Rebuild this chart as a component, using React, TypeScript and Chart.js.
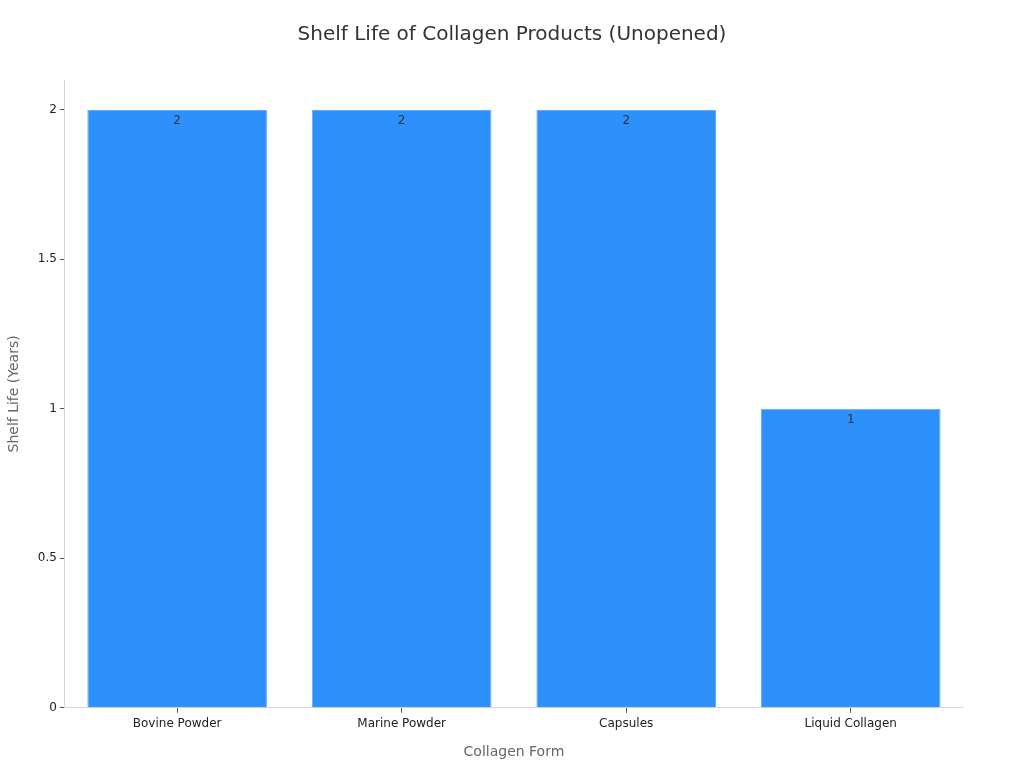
import { useEffect, useRef } from 'react'
import { Chart, ChartConfiguration, registerables } from 'chart.js'

Chart.register(...registerables)

const categories = ['Bovine Powder', 'Marine Powder', 'Capsules', 'Liquid Collagen']
const shelfLifeYears = [2, 2, 2, 1]
const yTicks = [0, 0.5, 1, 1.5, 2]

const TITLE = 'Shelf Life of Collagen Products (Unopened)'
const FONT = "'DejaVu Sans', sans-serif"

// draws each value just inside the top of its bar
const valueLabels = {
  id: 'valueLabels',
  afterDatasetsDraw(chart: Chart) {
    const ctx = chart.ctx
    const meta = chart.getDatasetMeta(0)
    ctx.save()
    ctx.font = `12px ${FONT}`
    ctx.fillStyle = '#333333'
    ctx.textAlign = 'center'
    ctx.textBaseline = 'middle'
    meta.data.forEach((bar: any, i: number) => {
      ctx.fillText(String(shelfLifeYears[i]), bar.x, bar.y + 11)
    })
    ctx.restore()
  },
}

// title centred on the whole canvas, not the padded box
const pageTitle = {
  id: 'pageTitle',
  afterDraw(chart: Chart) {
    const ctx = chart.ctx
    ctx.save()
    ctx.font = `20px ${FONT}`
    ctx.fillStyle = '#333333'
    ctx.textAlign = 'center'
    ctx.textBaseline = 'middle'
    ctx.fillText(TITLE, chart.width / 2, 35)
    ctx.restore()
  },
}

export default function App() {
  const chartRef = useRef<HTMLCanvasElement>(null)
  const chartInstance = useRef<Chart | null>(null)

  useEffect(() => {
    document.body.style.margin = '0'
    if (chartRef.current) {
      const ctx = chartRef.current.getContext('2d')
      if (ctx) {
        if (chartInstance.current) {
          chartInstance.current.destroy()
        }

        const config: ChartConfiguration = {
          type: 'bar',
          data: {
            labels: categories,
            datasets: [{
              data: shelfLifeYears,
              backgroundColor: '#2E90FA',
              borderColor: '#63AEFB',
              borderWidth: 1,
              categoryPercentage: 1,
              barPercentage: 0.8,
            }]
          },
          options: {
            responsive: false,
            animation: false,
            layout: { padding: { top: 80, right: 61, left: 6, bottom: 7 } },
            plugins: {
              legend: { display: false },
              tooltip: { enabled: false },
              title: { display: false },
            },
            scales: {
              x: {
                border: { color: '#d6d6d6' },
                grid: { display: true, offset: false, drawOnChartArea: false, drawTicks: true, tickLength: 5, color: '#555555' },
                ticks: { color: '#222222', font: { family: FONT, size: 12 }, padding: 4 },
                title: {
                  display: true,
                  text: 'Collagen Form',
                  color: '#666666',
                  font: { family: FONT, size: 14 },
                  padding: { top: 9, bottom: 0 },
                },
              },
              y: {
                min: 0,
                max: 2.1,
                border: { color: '#d6d6d6' },
                grid: { display: true, drawOnChartArea: false, drawTicks: true, tickLength: 5, color: '#555555' },
                afterBuildTicks: (axis: any) => {
                  axis.ticks = yTicks.map((v) => ({ value: v }))
                },
                ticks: {
                  color: '#222222',
                  font: { family: FONT, size: 12 },
                  padding: 3,
                  callback: (value: any) => String(value),
                },
                title: {
                  display: true,
                  text: 'Shelf Life (Years)',
                  color: '#666666',
                  font: { family: FONT, size: 14 },
                  padding: { top: 0, bottom: 12 },
                },
              },
            },
          },
          plugins: [valueLabels, pageTitle],
        }

        chartInstance.current = new Chart(ctx, config)
      }
    }

    return () => {
      if (chartInstance.current) {
        chartInstance.current.destroy()
      }
    }
  }, [])

  return (
    <div style={{ width: 1024, height: 768, background: '#ffffff' }}>
      <canvas ref={chartRef} width={1024} height={768}></canvas>
    </div>
  )
}
